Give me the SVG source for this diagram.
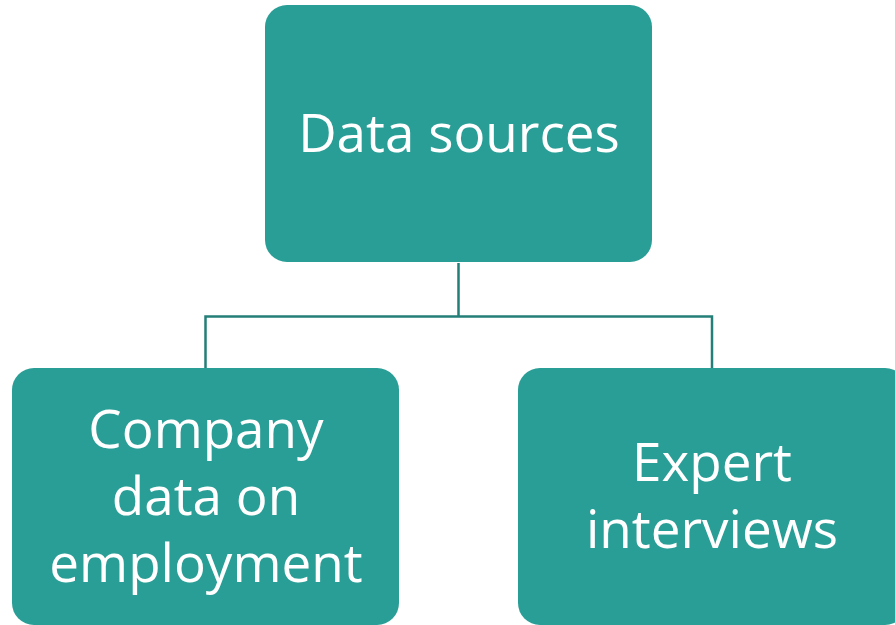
<svg xmlns="http://www.w3.org/2000/svg" width="895" height="625" viewBox="0 0 895 625">
<style>
.box{fill:#299e96;}
.lbl{font-family:"Open Sans","Liberation Sans",sans-serif;font-size:53px;fill:#ffffff;text-anchor:middle;}
.conn{fill:none;stroke:#237f78;stroke-width:2.5;}
</style>
<rect width="895" height="625" fill="#ffffff"/>
<g id="connectors">
<path class="conn" d="M458.5 263 V316.5 M205.5 369 V316.5 H712 V369"/>
</g>
<g id="node-data-sources">
<rect class="box" x="265" y="5" width="387" height="257" rx="22"/>
<text class="lbl" x="459" y="152">Data sources</text>
</g>
<g id="node-company-data">
<rect class="box" x="12" y="368" width="387" height="257" rx="22"/>
<text class="lbl" x="206" y="448">Company</text>
<text class="lbl" x="206" y="515">data on</text>
<text class="lbl" x="206" y="582">employment</text>
</g>
<g id="node-expert-interviews">
<rect class="box" x="518" y="368" width="389" height="257" rx="22"/>
<text class="lbl" x="712" y="481">Expert</text>
<text class="lbl" x="712" y="548">interviews</text>
</g>
</svg>
